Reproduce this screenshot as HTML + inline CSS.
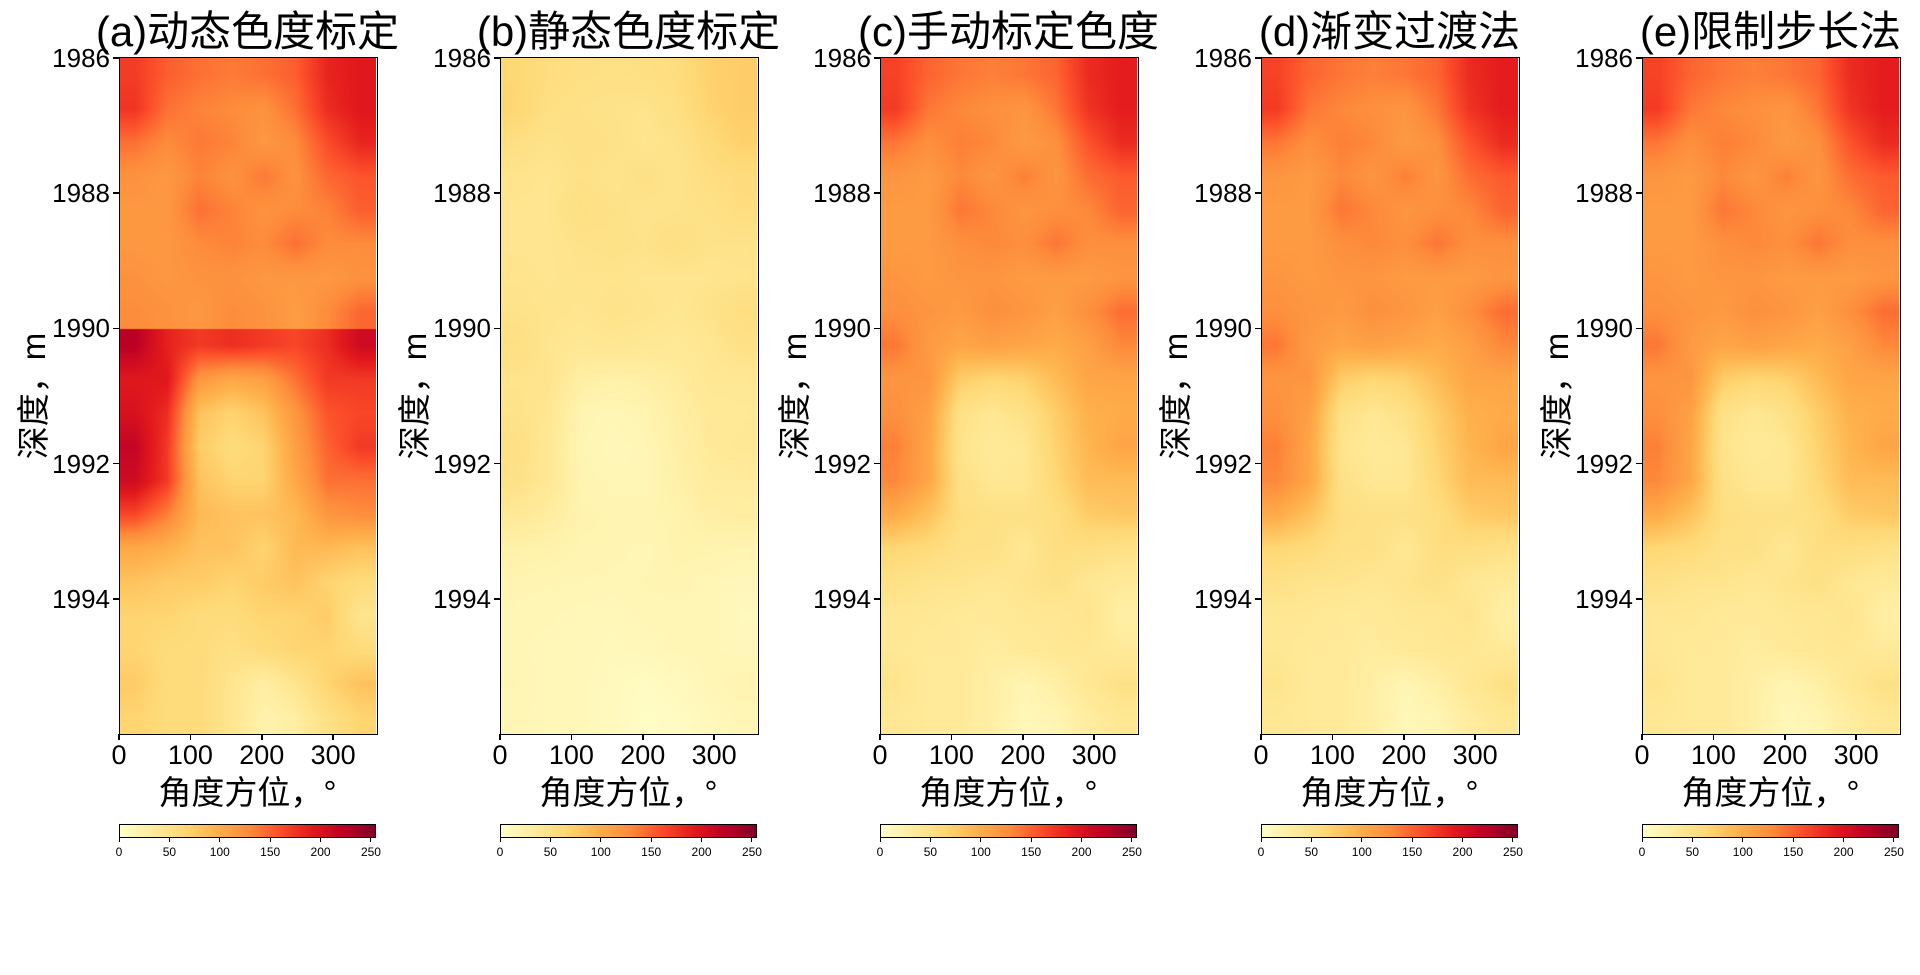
<!DOCTYPE html>
<html><head><meta charset="utf-8">
<style>
html,body{margin:0;padding:0;background:#fff;}
body{width:1920px;height:975px;position:relative;overflow:hidden;font-family:"Liberation Sans","Noto Sans CJK SC",sans-serif;color:#000;}
.abs{position:absolute;}
.title{font-size:42px;white-space:nowrap;text-align:center;line-height:46px;}
.yt{font-size:26px;text-align:right;width:90px;line-height:26px;}
.xt{font-size:27px;text-align:center;width:80px;line-height:27px;}
.xl{font-size:33px;white-space:nowrap;text-align:center;}
.yl{font-size:33px;white-space:nowrap;transform:rotate(-90deg);transform-origin:center;text-align:center;line-height:36px;}
.cbt{font-size:12px;text-align:center;width:40px;}
.tick{background:#000;}
canvas{position:absolute;}
.frame{position:absolute;border:1.5px solid #000;box-sizing:border-box;}
</style></head>
<body>
<script>
// ===== data =====
const titles = ["(a)动态色度标定","(b)静态色度标定","(c)手动标定色度","(d)渐变过渡法","(e)限制步长法"];
const yTicks = [1986,1988,1990,1992,1994];
const xTicks = [0,100,200,300];
const cbTicks = [0,50,100,150,200,250];
const depthRange = [1986,1996];
const angleRange = [0,360];
// base field: rows = depth (0.5 m each from 1986), cols = azimuth
const baseGrid = [
[180,160,150,145,150,160,195,205],
[185,150,140,135,130,150,190,205],
[150,135,145,140,125,135,170,195],
[130,125,140,130,145,130,155,165],
[125,125,150,140,130,135,140,160],
[125,125,135,140,135,150,135,135],
[130,125,130,130,125,125,125,130],
[135,130,125,135,130,120,135,155],
[150,125,115,120,115,110,120,140],
[130,130,80,70,75,95,115,115],
[135,120,55,45,55,80,105,110],
[145,115,50,40,45,75,100,115],
[140,115,55,45,45,70,95,95],
[110,90,60,55,55,60,80,85],
[70,65,55,55,45,60,60,55],
[55,50,50,45,50,55,45,40],
[45,45,40,40,45,45,50,30],
[45,40,40,35,40,45,45,40],
[50,40,40,30,20,30,45,55],
[45,40,40,30,15,20,35,45]
];
// per-panel gain for upper (above 1990) and lower sections
const upperGain = [0.95,0.36,0.93,0.93,0.93];
const lowerGain = [1.5,0.36,0.93,0.93,0.93];
const splitDepth = [1990,null,null,null,null];
</script>
<script>
const W=257,H=676,TOP=58,LEFTS=[119,500,880,1261,1642];
const stops=[[0,[255,255,204]],[32,[255,237,160]],[64,[254,217,118]],[96,[254,178,76]],[128,[253,141,60]],[160,[252,78,42]],[192,[227,26,28]],[224,[189,0,38]],[255,[128,0,38]]];
function cmap(v){v=Math.max(0,Math.min(255,v));for(let i=1;i<stops.length;i++){if(v<=stops[i][0]){const a=stops[i-1],b=stops[i];const t=(v-a[0])/(b[0]-a[0]);return a[1].map((c,k)=>c+(b[1][k]-c)*t);}}return stops[stops.length-1][1];}
const yScale=d=>TOP+(d-depthRange[0])/(depthRange[1]-depthRange[0])*H;
const xScale=(a,l)=>l+(a-angleRange[0])/(angleRange[1]-angleRange[0])*W;
const nR=baseGrid.length,nC=baseGrid[0].length;
function sample(r0,r1,fy,fx){
 let gy=fy*nR-0.5, gx=fx*nC-0.5;
 gy=Math.max(r0,Math.min(r1-1,gy)); gx=Math.max(0,Math.min(nC-1,gx));
 const y0=Math.floor(gy),x0=Math.floor(gx),y1=Math.min(r1-1,y0+1),x1=Math.min(nC-1,x0+1);
 const ty=gy-y0,tx=gx-x0;
 const a=baseGrid[y0][x0]*(1-tx)+baseGrid[y0][x1]*tx;
 const b=baseGrid[y1][x0]*(1-tx)+baseGrid[y1][x1]*tx;
 return a*(1-ty)+b*ty;
}
function mk(tag,cls,name,css,text){const e=document.createElement(tag);if(cls)e.className=cls;
 
 
 Object.assign(e.style,css);if(text!==undefined)e.textContent=text;document.body.appendChild(e);return e;}
titles.forEach((t,p)=>{
 const L=LEFTS[p];
 const cv=document.createElement('canvas');
 
 
 cv.width=W;cv.height=H;cv.style.left=L+'px';cv.style.top=TOP+'px';document.body.appendChild(cv);
 const ctx=cv.getContext('2d');const img=ctx.createImageData(W,H);
 const split=splitDepth[p]!==null?Math.round((splitDepth[p]-depthRange[0])/(depthRange[1]-depthRange[0])*nR):null;
 const splitPx=split!==null?yScale(splitDepth[p])-TOP:null;
 for(let y=0;y<H;y++){const fy=(y+0.5)/H;
  let r0=0,r1=nR,g=upperGain[p];
  if(split!==null){ if(y<splitPx){r1=split;} else {r0=split;g=lowerGain[p];} }
  else if(fy*nR>=8) g=lowerGain[p];
  for(let x=0;x<W;x++){const v=sample(r0,r1,fy,(x+0.5)/W)*g;const c=cmap(v);const i=(y*W+x)*4;
   img.data[i]=c[0];img.data[i+1]=c[1];img.data[i+2]=c[2];img.data[i+3]=255;}}
 ctx.putImageData(img,0,0);
 mk('div','frame','plot-frame',{left:L+'px',top:(TOP-1)+'px',width:(W+2)+'px',height:(H+2)+'px'});
 mk('div','abs title','panel-title',{left:(L+W/2-200)+'px',width:'400px',top:'9px'},t);
 yTicks.forEach(d=>{const y=yScale(d);
  mk('div','abs tick','y-tick',{left:(L-6)+'px',top:(y-0.75)+'px',width:'6px',height:'1.5px'});
  mk('div','abs yt','y-tick-label',{left:(L-99)+'px',top:(y-13)+'px'},String(d));});
 xTicks.forEach(a=>{const x=xScale(a,L);
  mk('div','abs tick','x-tick',{left:(x-0.75)+'px',top:(TOP+H)+'px',width:'1.5px',height:'6px'});
  mk('div','abs xt','x-tick-label',{left:(x-40)+'px',top:(TOP+H+8)+'px'},String(a));});
 mk('div','abs xl','x-axis-title',{left:(L+W/2-150)+'px',width:'300px',top:'766px'},'角度方位，°');
 mk('div','abs yl','y-axis-title',{left:(L-85-80)+'px',width:'160px',top:(396-18)+'px'},'深度，m');
 const cb=document.createElement('canvas');
 
 
 cb.width=W;cb.height=12;cb.style.left=L+'px';cb.style.top='825px';document.body.appendChild(cb);
 const cctx=cb.getContext('2d');for(let x=0;x<W;x++){const c=cmap(x/(W-1)*255);cctx.fillStyle=`rgb(${c[0]|0},${c[1]|0},${c[2]|0})`;cctx.fillRect(x,0,1,12);}
 mk('div','frame','colorbar-frame',{left:L+'px',top:'824px',width:W+'px',height:'14px',borderWidth:'1px'});
 cbTicks.forEach(v=>{const x=L+v/255*W;
  mk('div','abs tick','colorbar-tick',{left:(x-0.5)+'px',top:'838px',width:'1px',height:'4px'});
  mk('div','abs cbt','colorbar-tick-label',{left:(x-20)+'px',top:'845px'},String(v));});
});
</script>
</body></html>
